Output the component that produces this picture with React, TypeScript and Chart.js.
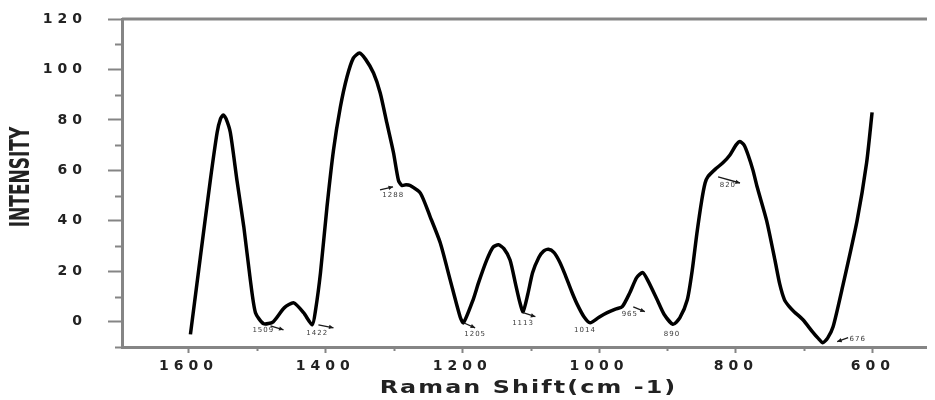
import { useEffect, useRef } from 'react';
import { Chart, registerables } from 'chart.js';

Chart.register(...registerables);

// Raman shift (cm-1) and intensity
const shiftValues = [
  1597, 1582.5, 1568, 1558, 1553, 1549, 1545, 1538.7, 1529, 1519, 1509.5, 1502, 1490, 1476, 1460,
  1446, 1431.7, 1419, 1414, 1407, 1397.5, 1388, 1378, 1368.3, 1359, 1350, 1341, 1329.5, 1319.7,
  1310, 1300.3, 1293, 1288, 1282, 1276, 1261, 1246.7, 1232, 1217.5, 1203, 1198, 1184, 1176, 1164,
  1155, 1147, 1139, 1130, 1122, 1116, 1111, 1104, 1097, 1088, 1081, 1074, 1066, 1058, 1050, 1040,
  1032, 1022, 1013, 1000, 988, 976, 966, 955, 945, 936, 928, 915, 905, 892, 882, 871, 864, 857,
  850, 845, 841, 830, 819, 809, 800, 794, 788, 782, 775, 769, 755, 743, 736, 729, 722, 715, 702,
  688, 680, 673, 666, 658, 644, 623, 609, 601,
];
const intensityValues = [
  -5, 25.7, 56, 75, 80.5, 82, 80.5, 75, 56, 37.6, 16.6, 3.6, -0.8, 0, 5.5,
  7.5, 3.6, -1.2, 5, 19.4, 45.5, 68, 85, 97, 104.5, 106.5, 104, 98.6, 90.7,
  78.8, 67, 56, 54, 54.3, 54, 51, 41.6, 31.3, 16.6, 2, -0.4, 8.7, 15.5, 24.5,
  29.5, 30.5, 29, 24.5, 15, 8, 4, 11, 19.5, 25.5, 28, 28.7, 27.5, 24, 19, 12,
  7, 2, -0.4, 1.8, 3.6, 5, 6, 11.5, 17.5, 19.5, 16, 8.7, 3, -1, 1.5, 8.7, 20, 35,
  48, 55, 57.5, 60.5, 63, 66, 70, 71.4, 70, 66, 60, 53.5, 40, 24.5, 15, 8.7, 6, 4, 0.8,
  -4, -6.5, -8.3, -6.5, -2, 14, 40, 63, 83,
];

const xTickValues = [1600, 1400, 1200, 1000, 800, 600];
const xMinorTickValues = [1500, 1300, 1100, 900, 700];
const yTickValues = [0, 20, 40, 60, 80, 100, 120];
const yMinorTickValues = [-10, 10, 30, 50, 70, 90, 110];

// Peak annotations (text, data position) and their small arrows
const annoTexts = ['1509', '1422', '1288', '1205', '1113', '1014', '965', '890', '820', '676'];
const annoX = [1490.5, 1411.7, 1300.7, 1181, 1111, 1020.5, 955, 893.4, 811.7, 622];
const annoY = [-3.2, -4.4, 50.3, -4.8, -0.4, -3.2, 3.2, -4.8, 54.3, -7.1];
const arrowTails: (number[] | null)[] = [
  [1480, -1.6], [1410, -1.2], [1320, 52.3], [1198, -0.4], [1111, 3.6], null, [950, 5.9], null, [826, 57.4], [636, -6.3],
];
const arrowTips: (number[] | null)[] = [
  [1461, -3.2], [1388, -2.4], [1301, 53.5], [1181, -2.4], [1093, 2], null, [933, 4], null, [794, 55], [652, -7.9],
];

const xTitle = 'Raman Shift(cm -1)';
const yTitle = 'INTENSITY';

const AXIS_GREY = '#858585';
const TEXT = '#222222';

const decorPlugin = {
  id: 'decor',
  beforeDraw(chart: any) {
    chart.ctx.letterSpacing = '5px';
  },
  beforeDatasetsDraw(chart: any) {
    chart.ctx.letterSpacing = '0px';
  },
  afterDraw(chart: any) {
    const { ctx, chartArea: a, scales } = chart;
    const x = scales.x;
    const y = scales.y;
    ctx.save();
    ctx.letterSpacing = '0px';
    // frame top and right
    ctx.strokeStyle = AXIS_GREY;
    ctx.lineWidth = 3;
    ctx.beginPath();
    ctx.moveTo(a.left, a.top);
    ctx.lineTo(a.right, a.top);
    ctx.stroke();
    ctx.strokeStyle = '#cfcfcf';
    ctx.lineWidth = 1.5;
    ctx.beginPath();
    ctx.moveTo(a.right, a.top);
    ctx.lineTo(a.right, a.bottom);
    ctx.stroke();

    // minor ticks
    ctx.strokeStyle = AXIS_GREY;
    ctx.lineWidth = 2;
    yMinorTickValues.forEach((v) => {
      const py = Math.round(y.getPixelForValue(v)) + 0.5;
      ctx.beginPath();
      ctx.moveTo(a.left - 7, py);
      ctx.lineTo(a.left, py);
      ctx.stroke();
    });
    xMinorTickValues.forEach((v) => {
      const px = Math.round(x.getPixelForValue(v)) + 0.5;
      ctx.beginPath();
      ctx.moveTo(px, a.bottom);
      ctx.lineTo(px, a.bottom + 4);
      ctx.stroke();
    });

    // x title (wide look of the reference)
    ctx.fillStyle = TEXT;
    ctx.save();
    ctx.translate((a.left + a.right) / 2 + 1, 381);
    ctx.scale(1.4, 1);
    ctx.font = 'bold 17px "DejaVu Sans", sans-serif';
    ctx.letterSpacing = '1.5px';
    ctx.textAlign = 'center';
    ctx.textBaseline = 'middle';
    ctx.fillText(xTitle, 0, 0);
    ctx.restore();

    // y title (condensed look)
    ctx.letterSpacing = '0px';
    ctx.save();
    ctx.translate(14, 169);
    ctx.rotate(-Math.PI / 2);
    ctx.scale(1, 1.6);
    ctx.font = 'bold 17px "DejaVu Sans", sans-serif';
    ctx.textAlign = 'center';
    ctx.textBaseline = 'middle';
    ctx.fillText(yTitle, 0, 0);
    ctx.restore();

    // annotations
    ctx.font = '7px "DejaVu Sans", sans-serif';
    ctx.letterSpacing = '1px';
    ctx.fillStyle = '#3a3a3a';
    ctx.textAlign = 'center';
    ctx.textBaseline = 'middle';
    annoTexts.forEach((t, i) => {
      ctx.fillText(t, x.getPixelForValue(annoX[i]), y.getPixelForValue(annoY[i]));
    });
    ctx.strokeStyle = '#1a1a1a';
    ctx.fillStyle = '#1a1a1a';
    ctx.lineWidth = 1.3;
    arrowTails.forEach((tail, i) => {
      const tip = arrowTips[i];
      if (!tail || !tip) return;
      const x1 = x.getPixelForValue(tail[0]);
      const y1 = y.getPixelForValue(tail[1]);
      const x2 = x.getPixelForValue(tip[0]);
      const y2 = y.getPixelForValue(tip[1]);
      ctx.beginPath();
      ctx.moveTo(x1, y1);
      ctx.lineTo(x2, y2);
      ctx.stroke();
      const ang = Math.atan2(y2 - y1, x2 - x1);
      ctx.beginPath();
      ctx.moveTo(x2, y2);
      ctx.lineTo(x2 - 5 * Math.cos(ang - 0.45), y2 - 5 * Math.sin(ang - 0.45));
      ctx.lineTo(x2 - 5 * Math.cos(ang + 0.45), y2 - 5 * Math.sin(ang + 0.45));
      ctx.closePath();
      ctx.fill();
    });
    ctx.restore();
  },
};

export default function App() {
  const canvasRef = useRef<HTMLCanvasElement | null>(null);

  useEffect(() => {
    if (!canvasRef.current) return;
    const points = shiftValues.map((s, i) => ({ x: s, y: intensityValues[i] }));
    const tickFont = { family: '"DejaVu Sans", sans-serif', weight: 'bold' as const, size: 14 };
    const chart = new Chart(canvasRef.current, {
      type: 'line',
      data: {
        datasets: [
          {
            data: points,
            borderColor: '#000',
            borderWidth: 3.5,
            pointRadius: 0,
            fill: false,
            tension: 0.22,
          },
        ],
      },
      options: {
        animation: false,
        responsive: true,
        maintainAspectRatio: false,
        layout: { padding: { top: 11, right: 2, left: 0, bottom: 0 } },
        plugins: { legend: { display: false }, tooltip: { enabled: false } },
        scales: {
          x: {
            type: 'linear',
            reverse: true,
            min: 512,
            max: 1697,
            afterFit: (s: any) => {
              s.height = 53;
              s.paddingLeft = 0;
              s.paddingRight = 0;
              s.paddingTop = 0;
              s.paddingBottom = 0;
            },
            afterBuildTicks: (s: any) => {
              s.ticks = xTickValues.map((v) => ({ value: v }));
            },
            ticks: {
              autoSkip: false,
              maxRotation: 0,
              font: tickFont,
              color: TEXT,
              padding: 5,
              callback: (v: any) => String(v),
            },
            grid: {
              drawOnChartArea: false,
              drawTicks: true,
              tickLength: 6,
              tickWidth: 2,
              tickColor: AXIS_GREY,
            },
            border: { display: true, color: AXIS_GREY, width: 3 },
          },
          y: {
            type: 'linear',
            min: -10,
            max: 120,
            afterFit: (s: any) => {
              s.width = 114;
              s.paddingLeft = 0;
              s.paddingRight = 0;
              s.paddingTop = 0;
              s.paddingBottom = 0;
            },
            afterBuildTicks: (s: any) => {
              s.ticks = yTickValues.map((v) => ({ value: v }));
            },
            ticks: {
              font: tickFont,
              color: TEXT,
              padding: 21,
              callback: (v: any) => String(v),
            },
            grid: {
              drawOnChartArea: false,
              drawTicks: true,
              tickLength: 14,
              tickWidth: 2,
              tickColor: AXIS_GREY,
            },
            border: { display: true, color: AXIS_GREY, width: 3 },
          },
        },
      },
      plugins: [decorPlugin],
    });
    return () => chart.destroy();
  }, []);

  return (
    <div style={{ width: 927, height: 392, position: 'relative' }}>
      <canvas ref={canvasRef} />
    </div>
  );
}
